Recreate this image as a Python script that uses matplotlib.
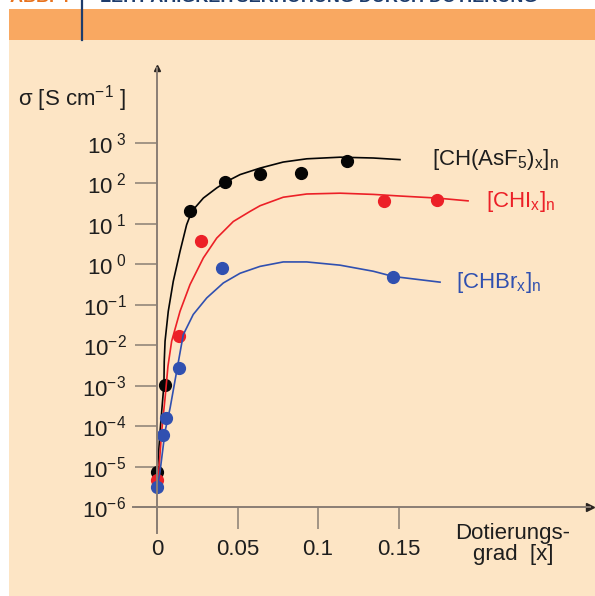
import numpy as np
import matplotlib
matplotlib.use('Agg')
import matplotlib.pyplot as plt
from matplotlib.patches import Rectangle

plt.rcParams['font.family'] = ['Liberation Sans', 'DejaVu Sans']
plt.rcParams['mathtext.fontset'] = 'custom'
plt.rcParams['mathtext.rm'] = 'Liberation Sans'
plt.rcParams['mathtext.it'] = 'Liberation Sans'
plt.rcParams['mathtext.bf'] = 'Liberation Sans:bold'

# measured points: doping degree x, log10(sigma / S cm^-1)
asf5_x = [0.0, 0.005, 0.0205, 0.0422, 0.064, 0.0893, 0.1178]
asf5_log = [-5.14, -2.99, 1.31, 2.03, 2.23, 2.27, 2.55]
chi_x = [0.0, 0.0137, 0.0273, 0.1412, 0.1737]
chi_log = [-5.32, -1.78, 0.57, 1.56, 1.60]
chbr_x = [0.0, 0.0035, 0.0056, 0.0139, 0.0402, 0.1468]
chbr_log = [-5.51, -4.21, -3.80, -2.56, -0.09, -0.31]

# fitted curves as drawn in the figure
asf5_fit_x = [0.0002, 0.0019, 0.0043, 0.0045, 0.005, 0.007, 0.0101, 0.0143, 0.0184,
              0.0216, 0.0288, 0.0371, 0.0433, 0.0516, 0.064, 0.0784, 0.093, 0.1137,
              0.1343, 0.1509]
asf5_fit_log = [-5.12, -4.13, -2.97, -2.40, -1.90, -1.16, -0.42, 0.32, 0.98,
                1.31, 1.64, 1.89, 2.05, 2.22, 2.38, 2.53, 2.61, 2.65,
                2.63, 2.59]
chi_fit_x = [0.0008, 0.0029, 0.005, 0.0068, 0.0091, 0.0143, 0.0205, 0.0288, 0.0371,
             0.0474, 0.0578, 0.064, 0.0784, 0.093, 0.1137, 0.1343, 0.1509, 0.1737,
             0.1932]
chi_fit_log = [-5.29, -4.13, -3.31, -2.52, -1.90, -1.16, -0.50, 0.16, 0.65,
               1.06, 1.31, 1.45, 1.66, 1.74, 1.76, 1.73, 1.69, 1.64,
               1.57]
chbr_fit_x = [0.0002, 0.0019, 0.005, 0.0081, 0.0122, 0.0163, 0.0225, 0.0309, 0.0412,
              0.0516, 0.064, 0.0784, 0.093, 0.1137, 0.1343, 0.1468, 0.1758]
chbr_fit_log = [-5.54, -5.12, -4.13, -3.56, -2.65, -1.74, -1.24, -0.83, -0.46,
                -0.22, -0.05, 0.06, 0.06, -0.02, -0.17, -0.30, -0.44]

y_exps = [-6, -5, -4, -3, -2, -1, 0, 1, 2, 3]
x_ticks = [0, 0.05, 0.1, 0.15]
x_ticklabels = ['0', '0.05', '0.1', '0.15']

beige = '#fde5c5'
orange = '#f9a861'
axis_col = '#8a7e74'
text_col = '#1e1e1e'
black = '#050505'
red = '#ec2027'
blue = '#3050b0'

W, H = 595, 596
fig = plt.figure(figsize=(W / 100, H / 100), dpi=100, facecolor='white')

# panel background and header band
fig.patches.append(Rectangle((9 / W, 0), 1, (H - 40) / H, transform=fig.transFigure,
                             facecolor=beige, edgecolor='none', zorder=-10))
fig.patches.append(Rectangle((9 / W, (H - 40) / H), 1, 31 / H, transform=fig.transFigure,
                             facecolor=orange, edgecolor='none', zorder=-10))
fig.lines.append(plt.Line2D([82 / W, 82 / W], [(H - 40) / H, 1], transform=fig.transFigure,
                            color='#1d3c6c', lw=1.6))
# header title, cut off at the top edge as in the source scan
fig.text(10 / W, 1 - 2.5 / H, 'ABB. 4', color='#e8731e', fontsize=13, fontweight='bold',
         va='baseline')
fig.text(100 / W, 1 - 2.5 / H, 'LEITFÄHIGKEITSERHÖHUNG DURCH DOTIERUNG', color='#1d3c6c',
         fontsize=13, fontweight='bold', va='baseline')

# axes placed so that x=0 sits at px 157 and 10^-6 at px 507
left_px, right_px, top_px, bot_px = 133, 590, 68, 533
ax = fig.add_axes([left_px / W, (H - bot_px) / H, (right_px - left_px) / W,
                   (bot_px - top_px) / H])
ax.set_facecolor('none')
ax.set_yscale('log')
ax.set_xlim((left_px - 157) / 1610, (right_px - 157) / 1610)
ax.set_ylim(10 ** (-6 - (bot_px - 507) / 40.44), 10 ** (-6 + (507 - top_px) / 40.44))

for s in ['top', 'right']:
  ax.spines[s].set_visible(False)
ax.spines['left'].set_position(('data', 0))
ax.spines['bottom'].set_position(('data', 1e-6))
for s in ['left', 'bottom']:
  ax.spines[s].set_color(axis_col)
  ax.spines[s].set_linewidth(1.4)

ax.set_yticks([10.0 ** e for e in y_exps])
ax.set_yticklabels([r'$10^{%d}$' % e if e < 0 else r'$10^{\ %d}$' % e for e in y_exps])
ax.yaxis.set_minor_locator(matplotlib.ticker.NullLocator())
ax.set_xticks(x_ticks)
ax.set_xticklabels(x_ticklabels)
ax.tick_params(axis='both', direction='out', length=16, width=1.1, color=axis_col,
               labelsize=16, labelcolor=text_col)
ax.tick_params(axis='y', pad=6)
ax.tick_params(axis='x', pad=7)

# axis arrowheads
ax.plot([0], [1], marker='^', ms=5, color='#2a2420', transform=ax.get_xaxis_transform(),
        clip_on=False)
ax.plot([1], [1e-6], marker='>', ms=6, color='#2a2420', transform=ax.get_yaxis_transform(),
        clip_on=False)

for fx, fy, px, py, c in [(asf5_fit_x, asf5_fit_log, asf5_x, asf5_log, black),
                          (chi_fit_x, chi_fit_log, chi_x, chi_log, red),
                          (chbr_fit_x, chbr_fit_log, chbr_x, chbr_log, blue)]:
  ax.plot(fx, 10.0 ** np.array(fy), color=c, lw=1.2, clip_on=False,
          solid_joinstyle='round')
  ax.plot(px, 10.0 ** np.array(py), 'o', color=c, ms=8.5, clip_on=False)

ax.text(0.1708, 10 ** 2.6, r'[CH(AsF$_5$)$_x$]$_n$', color=text_col, fontsize=16,
        va='center', ha='left')
ax.text(0.2043, 10 ** 1.56, r'[CHI$_x$]$_n$', color=red, fontsize=16, va='center', ha='left')
ax.text(0.1857, 10 ** -0.445, r'[CHBr$_x$]$_n$', color=blue, fontsize=16, va='center',
        ha='left')

fig.text(18 / W, 1 - 99 / H, r'σ [S cm$^{-1}$ ]', color=text_col, fontsize=16, va='center')
fig.text(513 / W, 1 - 544 / H, 'Dotierungs-\ngrad  [x]', color=text_col, fontsize=16,
         va='center', ha='center', linespacing=1.05)

fig.savefig('out.png', dpi=100, facecolor='white')
